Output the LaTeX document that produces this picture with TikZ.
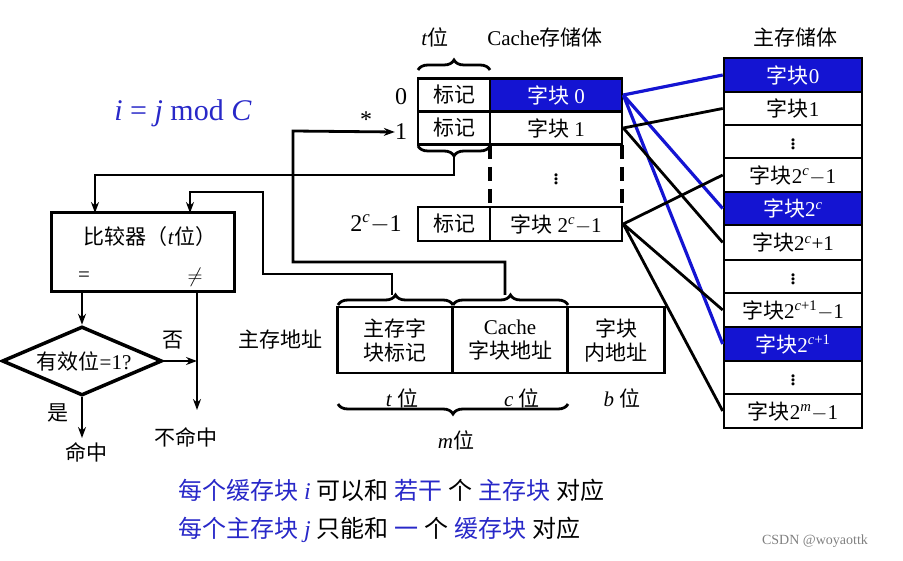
\documentclass[tikz,border=0pt]{standalone}
\usepackage{fontspec}
\setmainfont{Liberation Serif}
\newfontfamily\cjk{Noto Sans CJK SC}
\usetikzlibrary{shapes.geometric,decorations.pathreplacing,arrows.meta}
\definecolor{blk}{RGB}{20,20,210}
\definecolor{btxt}{RGB}{40,40,200}
\newcommand{\zh}[1]{{\cjk #1}}
\newcommand{\vd}{\raisebox{-4pt}{\fontsize{26}{28}\selectfont$\vdots$}}
\tikzset{
  cell/.style={draw, line width=2.6pt, inner sep=0pt, font=\fontsize{21}{24}\selectfont},
  wire/.style={line width=2.8pt},
  arr/.style={wire, -{Stealth[length=11pt,width=8pt]}},
  brc/.style={wire, decorate, decoration={brace, amplitude=10pt}},
  txt/.style={font=\fontsize{21}{24}\selectfont, inner sep=0pt}
}
\begin{document}
\begin{tikzpicture}[x=1pt, y=-1pt]
    \useasboundingbox (0,0) rectangle (903,561);
    % Cache store
    \node[txt] at (435,37) {\textit{t}\zh{位}};
    \node[txt] at (545,37) {Cache\zh{存储体}};
    \node[cell, minimum width=72pt, minimum height=33pt] (tag0) at (454,95) {\zh{标记}};
    \node[cell, fill=blk, text=white, minimum width=132pt, minimum height=33pt] (blk0) at (556,95) {\zh{字块} 0};
    \node[cell, minimum width=72pt, minimum height=33pt] (tag1) at (454,128) {\zh{标记}};
    \node[cell, minimum width=132pt, minimum height=33pt] (blk1) at (556,128) {\zh{字块} 1};
    \node[cell, minimum width=72pt, minimum height=34pt] (tagn) at (454,224) {\zh{标记}};
    \node[cell, minimum width=132pt, minimum height=34pt] (blkn) at (556,224) {\zh{字块} 2\textsuperscript{\textit{c}}$-$1};
    \draw[wire, line width=3.5pt, dash pattern=on 14pt off 8pt] (490,145) -- (490,207) (622,145) -- (622,207);
    \node[txt] at (556,176) {\vd};
    \node[txt, font=\fontsize{24}{26}\selectfont] (r0) at (401,97) {0};
    \node[txt, font=\fontsize{24}{26}\selectfont] (r1) at (401,132) {1};
    \node[txt, font=\fontsize{24}{26}\selectfont] at (376,224) {2\textsuperscript{\textit{c}}$-$1};
    \node[txt, font=\fontsize{24}{26}\selectfont] at (366,120) {*};
    \draw[brc] (418,70) -- (490,70);
    \draw[brc] (490,146) -- (418,146);
    % main memory
    \node[txt] at (795,37) {\zh{主存储体}};
    \foreach \name/\ya/\yb/\lab/\col/\tcol in {
        m0/58/92/{\zh{字块}0}/blk/white, m1/92/125/{\zh{字块}1}/white/black, md1/125/158/{\vd}/white/black,
        mc/158/192/{\zh{字块}2\textsuperscript{\textit{c}}$-$1}/white/black, mC/192/225/{\zh{字块}2\textsuperscript{\textit{c}}}/blk/white,
        mC1/225/260/{\zh{字块}2\textsuperscript{\textit{c}}+1}/white/black, md2/260/293/{\vd}/white/black,
        mD/293/327/{\zh{字块}2\textsuperscript{\textit{c}+1}$-$1}/white/black, mE/327/361/{\zh{字块}2\textsuperscript{\textit{c}+1}}/blk/white,
        md3/361/394/{\vd}/white/black, mm/394/428/{\zh{字块}2\textsuperscript{\textit{m}}$-$1}/white/black}{
        \pgfmathsetmacro{\h}{\yb-\ya}
        \node[cell, fill=\col, text=\tcol, minimum width=138pt, minimum height=\h pt] (\name) at (793,{(\ya+\yb)/2}) {\lab};
    }
    % mapping
    \draw[wire, blk, line width=3.2pt] (blk0.east) -- (m0.west) (blk0.east) -- (mC.west) (blk0.east) -- (mE.west);
    \draw[wire] (blk1.east) -- (m1.west) (blk1.east) -- (mC1.west);
    \draw[wire] (blkn.east) -- (mc.west) (blkn.east) -- (mD.west) (blkn.east) -- (mm.west);
    % address
    \node[txt] at (280,340) {\zh{主存地址}};
    \node[cell, minimum width=115pt, minimum height=66pt, align=center] (at) at (395,340) {\zh{主存字}\\\zh{块标记}};
    \node[cell, minimum width=115pt, minimum height=66pt, align=center] (ac) at (510,340) {Cache\\\zh{字块地址}};
    \node[cell, minimum width=97pt, minimum height=66pt, align=center] (ab) at (616,340) {\zh{字块}\\\zh{内地址}};
    \draw[brc] (338,305) -- (453,305);
    \draw[brc] (453,305) -- (568,305);
    \draw[brc] (568,404) -- (338,404);
    \node[txt] at (402,398) {\textit{t} \zh{位}};
    \node[txt] at (522,398) {\textit{c} \zh{位}};
    \node[txt] at (622,398) {\textit{b} \zh{位}};
    \node[txt] at (456,440) {\textit{m}\zh{位}};
    % comparator
    \node[cell, line width=3.5pt, minimum width=183pt, minimum height=79pt] (cmp) at (143,252) {};
    \node[txt] at (150,237) {\zh{比较器（}\textit{t}\zh{位）}};
    \node[txt] at (84,277) {=};
    \node[txt] at (195,277) {$\neq$};
    \node[cell, line width=3.5pt, diamond, aspect=2.3, minimum width=160pt, minimum height=69pt] (val) at (82,361) {};
    \node[txt] at (84,361) {\zh{有效位}=1?};
    \coordinate (hit) at (82,438);
    \coordinate (miss) at (197,410);
    \draw[arr] (82,292) -- (val.north);
    \draw[arr] (val.south) -- (hit);
    \draw[arr] (val.east) -- (197,361);
    \draw[arr] (197,292) -- (miss);
    \node[txt] at (173,340) {\zh{否}};
    \node[txt] at (58,413) {\zh{是}};
    \node[txt] at (86,452) {\zh{命中}};
    \node[txt] at (186,437) {\zh{不命中}};
    % wires to comparator and cache
    \draw[arr] (454,157) -- (454,175) -- (95,175) -- (95,213);
    \draw[arr] (392,295) -- (392,274) -- (263,274) -- (263,192) -- (190,192) -- (190,213);
    \draw[arr] (505,295) -- (505,262) -- (293,262) -- (293,131) -- (r1.west);
    % notes
    \node[txt, text=btxt, font=\fontsize{30}{32}\selectfont] at (183,113) {\textit{i} = \textit{j} mod \textit{C}};
    \node[txt, anchor=west, font=\fontsize{24}{28}\selectfont] at (178,490)
      {\textcolor{btxt}{\zh{每个缓存块} \textit{i}} \zh{可以和} \textcolor{btxt}{\zh{若干}} \zh{个} \textcolor{btxt}{\zh{主存块}} \zh{对应}};
    \node[txt, anchor=west, font=\fontsize{24}{28}\selectfont] at (178,530)
      {\textcolor{btxt}{\zh{每个主存块} \textit{j}} \zh{只能和} \textcolor{btxt}{\zh{一}} \zh{个} \textcolor{btxt}{\zh{缓存块}} \zh{对应}};
    \node[txt, text=gray, font=\fontsize{14}{16}\selectfont] at (815,541) {CSDN @woyaottk};
\end{tikzpicture}
\end{document}
